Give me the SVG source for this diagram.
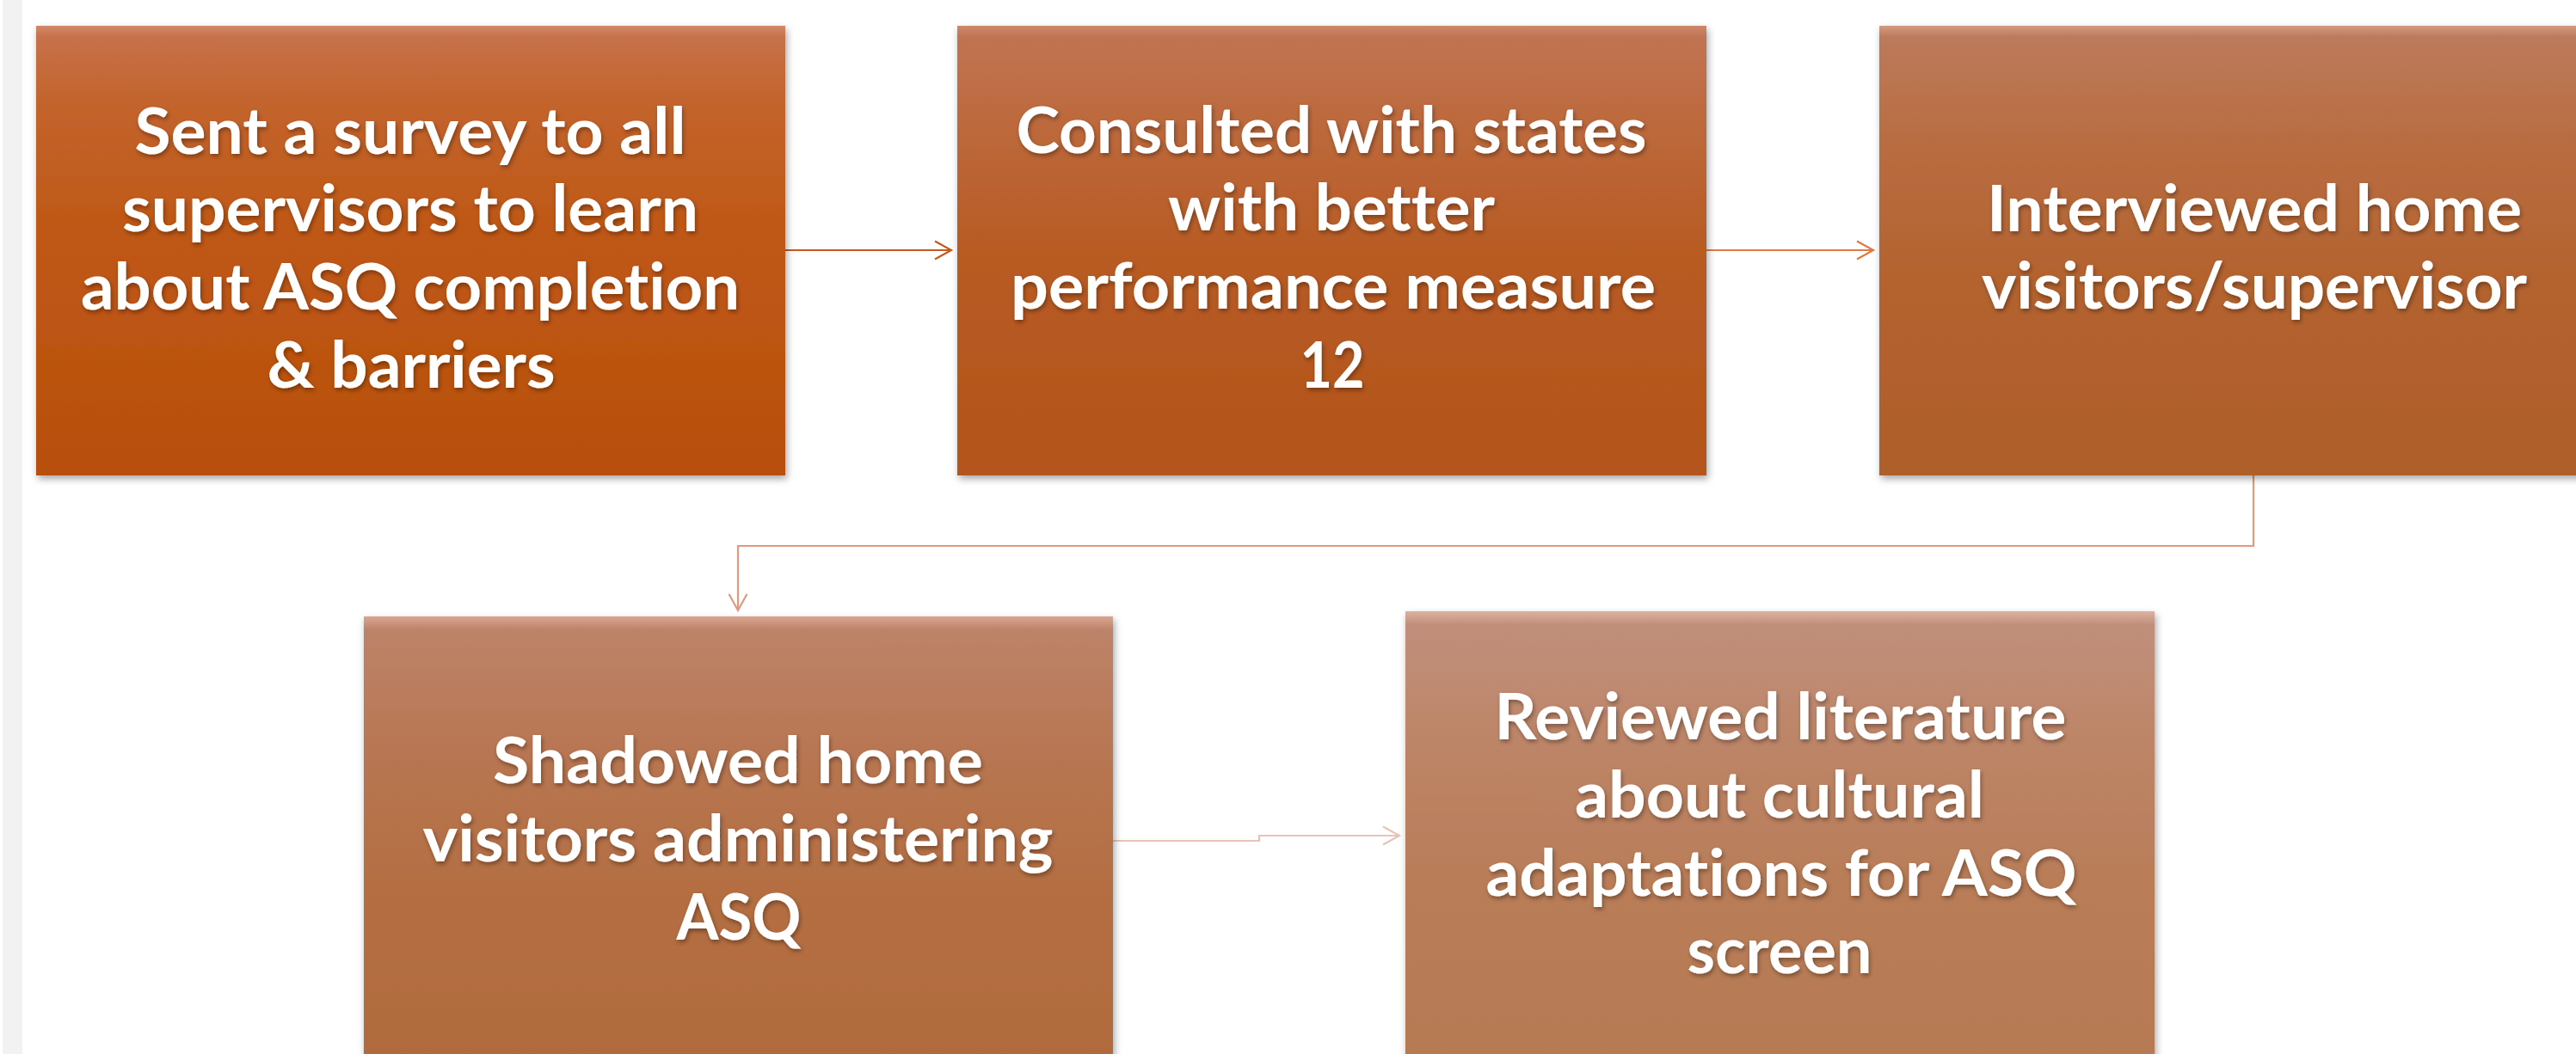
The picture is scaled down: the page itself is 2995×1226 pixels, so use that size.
<svg xmlns="http://www.w3.org/2000/svg" width="2995" height="1226" viewBox="0 0 2995 1226">
<defs>
<style>
.t{font-family:Lato,"Open Sans","Liberation Sans",sans-serif;font-weight:bold;font-size:75px;fill:#ffffff;text-anchor:middle;font-variant-ligatures:none;filter:url(#ts)}
.c{fill:none;stroke-width:2.2}
</style>
<filter id="bs" x="-5%" y="-5%" width="110%" height="112%">
<feDropShadow dx="2" dy="4" stdDeviation="4" flood-color="#000" flood-opacity="0.35"/>
</filter>
<filter id="ts" x="-5%" y="-20%" width="110%" height="150%">
<feDropShadow dx="1.5" dy="3" stdDeviation="2.5" flood-color="#000" flood-opacity="0.35"/>
</filter>
<linearGradient id="g1" x1="0" y1="0" x2="0" y2="1">
<stop offset="0" stop-color="#d2886a"/><stop offset="0.025" stop-color="#c7714a"/><stop offset="0.15" stop-color="#c3652f"/><stop offset="0.45" stop-color="#bf5816"/><stop offset="1" stop-color="#b84f0c"/>
</linearGradient>
<linearGradient id="g2" x1="0" y1="0" x2="0" y2="1">
<stop offset="0" stop-color="#cc8a6c"/><stop offset="0.025" stop-color="#c17352"/><stop offset="0.2" stop-color="#bd6a3e"/><stop offset="0.5" stop-color="#b85b24"/><stop offset="1" stop-color="#b3551b"/>
</linearGradient>
<linearGradient id="g3" x1="0" y1="0" x2="0" y2="1">
<stop offset="0" stop-color="#d49a80"/><stop offset="0.025" stop-color="#bc7a5c"/><stop offset="0.25" stop-color="#b96d42"/><stop offset="0.55" stop-color="#b4632f"/><stop offset="1" stop-color="#ae5e2b"/>
</linearGradient>
<linearGradient id="g4" x1="0" y1="0" x2="0" y2="1">
<stop offset="0" stop-color="#daa690"/><stop offset="0.03" stop-color="#bd8369"/><stop offset="0.3" stop-color="#b87652"/><stop offset="0.6" stop-color="#b46e42"/><stop offset="1" stop-color="#b06b3c"/>
</linearGradient>
<linearGradient id="g5" x1="0" y1="0" x2="0" y2="1">
<stop offset="0" stop-color="#dcb2a0"/><stop offset="0.03" stop-color="#c08f7b"/><stop offset="0.3" stop-color="#bd8567"/><stop offset="0.6" stop-color="#b97d58"/><stop offset="1" stop-color="#b67a52"/>
</linearGradient>
<marker id="a1" markerWidth="24" markerHeight="24" refX="20" refY="12" orient="auto" markerUnits="userSpaceOnUse"><path d="M1,1.5 L20,12 L1,22.5" fill="none" stroke="#c55a1e" stroke-width="2.2"/></marker>
<marker id="a2" markerWidth="24" markerHeight="24" refX="20" refY="12" orient="auto" markerUnits="userSpaceOnUse"><path d="M1,1.5 L20,12 L1,22.5" fill="none" stroke="#e07a44" stroke-width="2.2"/></marker>
<marker id="a3" markerWidth="24" markerHeight="24" refX="20" refY="12" orient="auto" markerUnits="userSpaceOnUse"><path d="M1,1.5 L20,12 L1,22.5" fill="none" stroke="#e09a80" stroke-width="2.2"/></marker>
<marker id="a4" markerWidth="24" markerHeight="24" refX="20" refY="12" orient="auto" markerUnits="userSpaceOnUse"><path d="M1,1.5 L20,12 L1,22.5" fill="none" stroke="#e8c4b8" stroke-width="2.2"/></marker>
</defs>
<rect x="0" y="0" width="2995" height="1226" fill="#ffffff"/>
<rect x="3" y="0" width="23" height="1226" fill="#f2f2f2"/>
<g id="connectors">
<path class="c" d="M913,291 H1106" stroke="#c55a1e" marker-end="url(#a1)"/>
<path class="c" d="M1984,291 H2178" stroke="#e07a44" marker-end="url(#a2)"/>
<path class="c" d="M2620,553 V635 H858 V710" stroke="#e09a80" marker-end="url(#a3)"/>
<path class="c" d="M1294,978 H1464 V972 H1627" stroke="#e8c4b8" marker-end="url(#a4)"/>
</g>
<g id="node1">
<rect x="42" y="30" width="871" height="523" fill="url(#g1)" filter="url(#bs)"/>
<text class="t" x="477" y="179" textLength="641" lengthAdjust="spacingAndGlyphs">Sent a survey to all</text>
<text class="t" x="477" y="269" textLength="670" lengthAdjust="spacingAndGlyphs">supervisors to learn</text>
<text class="t" x="477" y="360" textLength="766" lengthAdjust="spacingAndGlyphs">about ASQ completion</text>
<text class="t" x="478" y="451" textLength="335" lengthAdjust="spacingAndGlyphs">&amp; barriers</text>
</g>
<g id="node2">
<rect x="1113" y="30" width="871" height="523" fill="url(#g2)" filter="url(#bs)"/>
<text class="t" x="1548" y="178" textLength="733" lengthAdjust="spacingAndGlyphs">Consulted with states</text>
<text class="t" x="1548" y="268" textLength="380" lengthAdjust="spacingAndGlyphs">with better</text>
<text class="t" x="1550" y="359" textLength="750" lengthAdjust="spacingAndGlyphs">performance measure</text>
<text class="t" x="1549" y="451" textLength="75" lengthAdjust="spacingAndGlyphs">12</text>
</g>
<g id="node3">
<rect x="2185" y="30" width="871" height="523" fill="url(#g3)" filter="url(#bs)"/>
<text class="t" x="2621" y="269" textLength="622" lengthAdjust="spacingAndGlyphs">Interviewed home</text>
<text class="t" x="2621" y="359" textLength="634" lengthAdjust="spacingAndGlyphs">visitors/supervisor</text>
</g>
<g id="node4">
<rect x="423" y="717" width="871" height="522" fill="url(#g4)" filter="url(#bs)"/>
<text class="t" x="858" y="911" textLength="570" lengthAdjust="spacingAndGlyphs">Shadowed home</text>
<text class="t" x="858" y="1002" textLength="733" lengthAdjust="spacingAndGlyphs">visitors administering</text>
<text class="t" x="859" y="1093" textLength="145" lengthAdjust="spacingAndGlyphs">ASQ</text>
</g>
<g id="node5">
<rect x="1634" y="711" width="871" height="522" fill="url(#g5)" filter="url(#bs)"/>
<text class="t" x="2070" y="860" textLength="665" lengthAdjust="spacingAndGlyphs">Reviewed literature</text>
<text class="t" x="2069" y="951" textLength="476" lengthAdjust="spacingAndGlyphs">about cultural</text>
<text class="t" x="2071" y="1042" textLength="687" lengthAdjust="spacingAndGlyphs">adaptations for ASQ</text>
<text class="t" x="2069" y="1132" textLength="215" lengthAdjust="spacingAndGlyphs">screen</text>
</g>
</svg>
